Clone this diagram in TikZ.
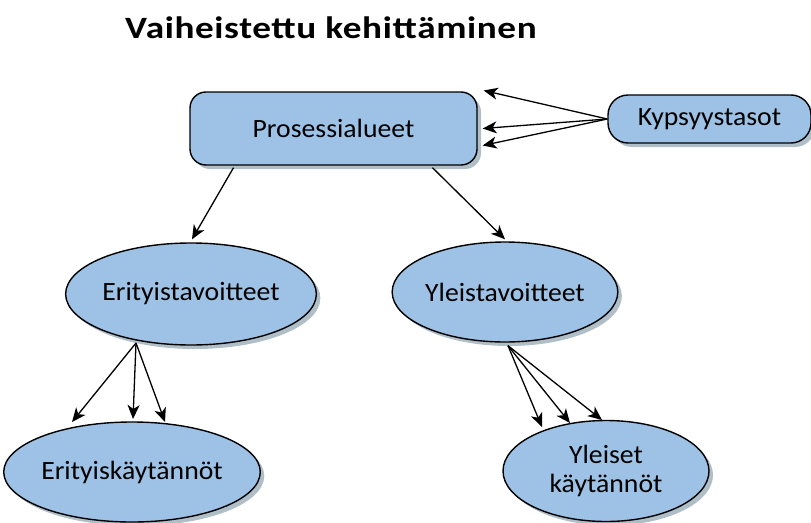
\documentclass[tikz,border=0pt]{standalone}
\usepackage{fontspec}
\setmainfont{Carlito}[FakeStretch=1.05]
\newfontfamily\titlefont{Carlito}[FakeStretch=1.2, LetterSpace=2]
\usetikzlibrary{shapes.geometric,shadows,calc,arrows.meta}
\definecolor{boxfill}{RGB}{157,194,229}
\definecolor{boxshade}{RGB}{176,190,200}
\begin{document}
\begin{tikzpicture}[x=1pt,y=-1pt,
  shape base/.style={draw=black, line width=1.4pt, fill=boxfill,
    drop shadow={shadow xshift=4pt, shadow yshift=-4pt, fill=boxshade, opacity=1},
    inner sep=0pt, align=center, font=\fontsize{26.4}{30}\selectfont},
  roundbox/.style={shape base, rectangle, rounded corners=16pt},
  oval/.style={shape base, ellipse},
  link/.style={line width=1.3pt, -{Stealth[length=14pt, width=12pt, inset=4pt]}}
]
\useasboundingbox (0,0) rectangle (811,522);

% title
\node[font=\titlefont\bfseries\fontsize{31}{35}\selectfont] (title) at (331,28) {Vaiheistettu kehittäminen};

% process areas and maturity levels
\node[roundbox, minimum width=287pt, minimum height=73pt] (pa) at (333.5,128.5) {Prosessialueet};
\node[roundbox, rounded corners=20pt, minimum width=203pt, minimum height=48pt] (ky) at (709.5,119) {Kypsyystasot};

% goals
\node[oval, minimum width=248pt, minimum height=102pt] (et) at (191,294) {Erityistavoitteet};
\node[oval, minimum width=214pt, minimum height=100pt] (yt) at (505,292) {Yleistavoitteet};

% practices
\node[oval, minimum width=241pt, minimum height=100pt] (ek) at (132,472) {Erityiskäytännöt};
\node[oval, minimum width=206pt, minimum height=101pt] (yk) at (606,471) {Yleiset\\[-1pt]käytännöt};

% maturity levels -> process areas
\draw[link] (ky.west) -- ($(pa.east)+(6,-38)$);
\draw[link] (ky.west) -- ($(pa.east)+(5,0)$);
\draw[link] (ky.west) -- ($(pa.east)+(5,17)$);

% process areas -> goals
\draw[link] ($(pa.south)+(-100,2)$) -- ($(et.north)+(1,-3)$);
\draw[link] ($(pa.south)+(99,2)$) -- ($(yt.north)+(0,-2)$);

% specific goals -> specific practices
\coordinate (etfoot) at ($(et.center)+(-55,49)$);
\draw[link] (etfoot) -- ($(ek.center)+(-60,-50)$);
\draw[link] (etfoot) -- ($(ek.center)+(1,-53)$);
\draw[link] (etfoot) -- ($(ek.center)+(33,-50)$);

% generic goals -> generic practices
\coordinate (ytfoot) at ($(yt.south)+(3,3)$);
\draw[link] (ytfoot) -- ($(yk.center)+(-64,-44)$);
\draw[link] (ytfoot) -- ($(yk.center)+(-36,-48)$);
\draw[link] (ytfoot) -- ($(yk.center)+(-4,-51)$);
\end{tikzpicture}
\end{document}
